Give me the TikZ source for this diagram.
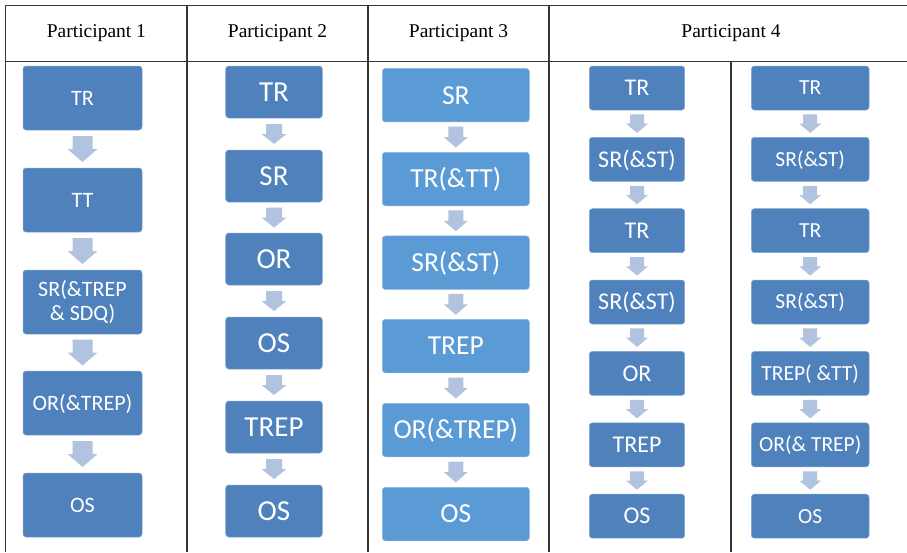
\documentclass[tikz,border=0pt]{standalone}
\usepackage{fontspec}
\setmainfont{Liberation Serif}
\newfontfamily\boxfont{Carlito}
\usetikzlibrary{calc}
\definecolor{boxdark}{RGB}{79,129,189}
\definecolor{boxlight}{RGB}{91,155,213}
\definecolor{arrowc}{RGB}{178,195,224}
\definecolor{rulec}{RGB}{55,55,55}
% block arrow from node #1 to node #2: total height #3, head width #4, shaft width #5
\newcommand\blockarr[5]{%
  \fill[arrowc,shift={($(#1.south)!0.5!(#2.north)$)}]
    (-#5/2,-#3/2) -- (#5/2,-#3/2) -- (#5/2,0) -- (#4/2,0) -- (0,#3/2)
    -- (-#4/2,0) -- (-#5/2,0) -- cycle;}
\begin{document}
\begin{tikzpicture}[x=1pt,y=-1pt,
  rule/.style={draw=rulec,line width=1.1pt},
  hdr/.style={font=\fontsize{19.5}{22}\selectfont,anchor=base,inner sep=0pt},
  stepnode/.style={rounded corners=3pt,fill=#1,draw=white!30!#1,line width=0.5pt,
    text=white,inner sep=0pt,align=center},
  pone/.style={stepnode=boxdark,minimum width=119pt,minimum height=64pt,
    font=\boxfont\fontsize{22}{24}\selectfont,text height=14.2pt,text depth=0pt},
  ponetwo/.style={stepnode=boxdark,minimum width=119pt,minimum height=64pt,
    font=\boxfont\fontsize{22}{24}\selectfont},
  ptwo/.style={stepnode=boxdark,minimum width=96.6pt,minimum height=52pt,
    font=\boxfont\fontsize{29}{32}\selectfont,text height=18.7pt,text depth=0pt},
  pthree/.style={stepnode=boxlight,minimum width=147pt,minimum height=53.5pt,
    font=\boxfont\fontsize{27.5}{30}\selectfont,text height=17.7pt,text depth=0pt},
  pfoura/.style={stepnode=boxdark,minimum width=95.4pt,minimum height=44pt,
    font=\boxfont\fontsize{24}{26}\selectfont,text height=15.5pt,text depth=0pt},
  pfourb/.style={stepnode=boxdark,minimum width=117.7pt,minimum height=44pt,
    font=\boxfont\fontsize{21.5}{24}\selectfont,text height=13.9pt,text depth=0pt}
]
\useasboundingbox (0,0) rectangle (907,552);
\fill[white] (0,0) rectangle (907,552);

% table rules
\draw[rule] (5.7,552) -- (5.7,5.7) -- (907,5.7);
\draw[rule] (5.7,61.5) -- (907,61.5);
\draw[rule] (187,5.7) -- (187,552);
\draw[rule] (368,5.7) -- (368,552);
\draw[rule] (549,5.7) -- (549,552);
\draw[rule] (731,61.5) -- (731,552);

% headers
\node[hdr] (h1) at (96.4,37.3) {Participant 1};
\node[hdr] (h2) at (277.5,37.3) {Participant 2};
\node[hdr] (h3) at (458.5,37.3) {Participant 3};
\node[hdr] (h4) at (731,37.3) {Participant 4};

% Participant 1
\node[pone] (a1) at (82.5,98) {TR};
\node[pone] (a2) at (82.5,200) {TT};
\node[ponetwo] (a3) at (82.5,302) {SR(\&TREP\\\& SDQ)};
\node[pone] (a4) at (82.5,403) {OR(\&TREP)};
\node[pone] (a5) at (82.5,505) {OS};
\blockarr{a1}{a2}{26}{30}{20}
\blockarr{a2}{a3}{26}{30}{20}
\blockarr{a3}{a4}{26}{30}{20}
\blockarr{a4}{a5}{26}{30}{20}

% Participant 2
\node[ptwo] (b1) at (274,92) {TR};
\node[ptwo] (b2) at (274,176) {SR};
\node[ptwo] (b3) at (274,259) {OR};
\node[ptwo] (b4) at (274,343) {OS};
\node[ptwo] (b5) at (274,427) {TREP};
\node[ptwo] (b6) at (274,511) {OS};
\blockarr{b1}{b2}{20}{25}{16}
\blockarr{b2}{b3}{20}{25}{16}
\blockarr{b3}{b4}{20}{25}{16}
\blockarr{b4}{b5}{20}{25}{16}
\blockarr{b5}{b6}{20}{25}{16}

% Participant 3
\node[pthree] (c1) at (455.8,95.2) {SR};
\node[pthree] (c2) at (455.8,179) {TR(\&TT)};
\node[pthree] (c3) at (455.8,262.7) {SR(\&ST)};
\node[pthree] (c4) at (455.8,346) {TREP};
\node[pthree] (c5) at (455.8,430) {OR(\&TREP)};
\node[pthree] (c6) at (455.8,514) {OS};
\blockarr{c1}{c2}{21}{24}{15}
\blockarr{c2}{c3}{21}{24}{15}
\blockarr{c3}{c4}{21}{24}{15}
\blockarr{c4}{c5}{21}{24}{15}
\blockarr{c5}{c6}{21}{24}{15}

% Participant 4, left
\node[pfoura] (d1) at (637,88) {TR};
\node[pfoura] (d2) at (637,159.3) {SR(\&ST)};
\node[pfoura] (d3) at (637,230.7) {TR};
\node[pfoura] (d4) at (637,302) {SR(\&ST)};
\node[pfoura] (d5) at (637,373.4) {OR};
\node[pfoura] (d6) at (637,444.8) {TREP};
\node[pfoura] (d7) at (637,516.2) {OS};
\foreach \u/\v in {d1/d2,d2/d3,d3/d4,d4/d5,d5/d6,d6/d7}{\blockarr{\u}{\v}{18.5}{22}{14}}

% Participant 4, right
\node[pfourb] (e1) at (810.2,88) {TR};
\node[pfourb] (e2) at (810.2,159.3) {SR(\&ST)};
\node[pfourb] (e3) at (810.2,230.7) {TR};
\node[pfourb] (e4) at (810.2,302) {SR(\&ST)};
\node[pfourb] (e5) at (810.2,373.4) {TREP( \&TT)};
\node[pfourb] (e6) at (810.2,444.8) {OR(\& TREP)};
\node[pfourb] (e7) at (810.2,516.2) {OS};
\foreach \u/\v in {e1/e2,e2/e3,e3/e4,e4/e5,e5/e6,e6/e7}{\blockarr{\u}{\v}{18.5}{22}{14}}
\end{tikzpicture}
\end{document}
